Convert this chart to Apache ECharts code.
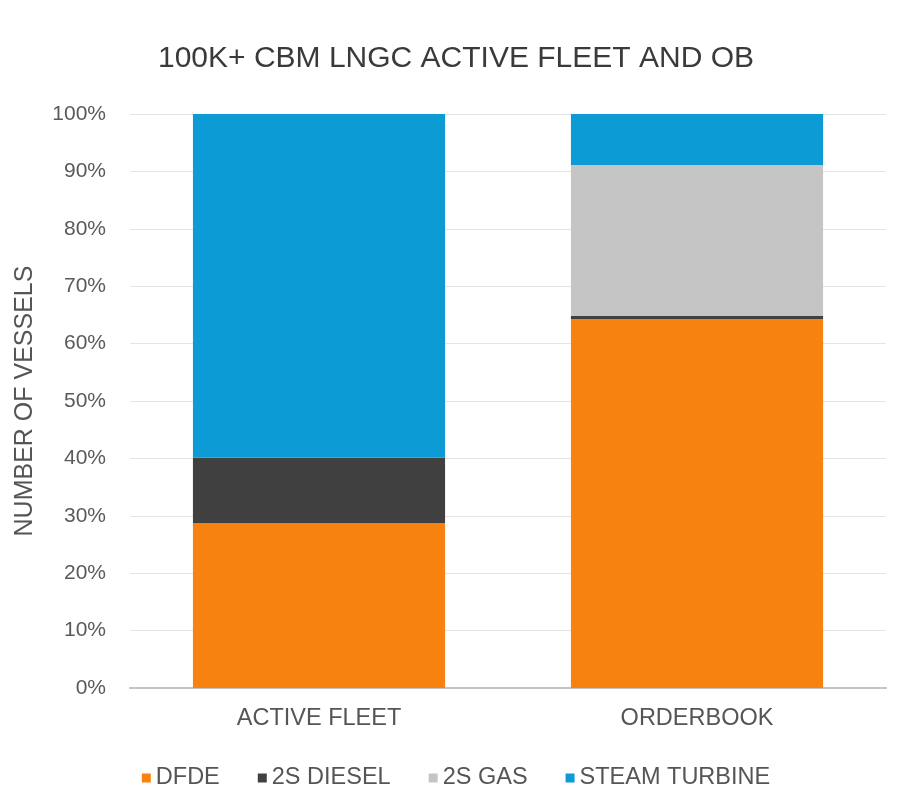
<!DOCTYPE html>
<html>
<head>
<meta charset="utf-8">
<script src="https://cdn.jsdelivr.net/npm/echarts@6/dist/echarts.min.js"></script>
<style>
  html, body { margin: 0; padding: 0; background: #ffffff; }
  #chart { width: 912px; height: 805px; }
</style>
</head>
<body>
<div id="chart"></div>
<script>
// Share of 100K+ CBM LNG carriers by propulsion type (percent of vessels)
const categories = ['ACTIVE FLEET', 'ORDERBOOK'];
const dfde = [28.7, 64.3];
const diesel2s = [11.4, 0.5];
const gas2s = [0, 26.3];
const steamTurbine = [59.9, 8.9];
const yTicks = [0, 10, 20, 30, 40, 50, 60, 70, 80, 90, 100];

const seriesDefs = [
  { name: 'DFDE', data: dfde, color: '#F8820F' },
  { name: '2S DIESEL', data: diesel2s, color: '#404040' },
  { name: '2S GAS', data: gas2s, color: '#C5C5C5' },
  { name: 'STEAM TURBINE', data: steamTurbine, color: '#0D9BD6' }
];

const chart = echarts.init(document.getElementById('chart'), null, { renderer: 'canvas' });
const font = '"Liberation Sans", Arial, Helvetica, sans-serif';

chart.setOption({
  backgroundColor: '#ffffff',
  animation: false,
  title: {
    text: '100K+ CBM LNGC ACTIVE FLEET AND OB',
    left: 'center',
    top: 39,
    textStyle: { fontFamily: font, fontSize: 30, fontWeight: 'normal', color: '#3a3a3a' }
  },
  legend: {
    bottom: 10,
    left: 'center',
    itemWidth: 9,
    itemHeight: 9,
    itemGap: 38,
    icon: 'rect',
    textStyle: { fontFamily: font, fontSize: 23.5, color: '#555555' },
    data: seriesDefs.map(s => s.name)
  },
  grid: { left: 130, right: 26, top: 114, bottom: 117, containLabel: false },
  xAxis: {
    type: 'category',
    data: categories,
    axisTick: { show: false },
    axisLine: { lineStyle: { color: '#c4c4c4', width: 2 } },
    axisLabel: { fontFamily: font, fontSize: 23.5, color: '#555555', margin: 19 }
  },
  yAxis: {
    type: 'value',
    min: yTicks[0],
    max: yTicks[yTicks.length - 1],
    interval: yTicks[1] - yTicks[0],
    name: 'NUMBER OF VESSELS',
    nameLocation: 'middle',
    nameGap: 92,
    nameTextStyle: { fontFamily: font, fontSize: 25, color: '#555555' },
    axisLine: { show: false },
    axisTick: { show: false },
    splitLine: { lineStyle: { color: '#e4e4e4', width: 1 } },
    axisLabel: {
      fontFamily: font, fontSize: 21, color: '#5a5a5a', margin: 24,
      formatter: v => v + '%'
    }
  },
  series: seriesDefs.map(s => ({
    name: s.name,
    type: 'bar',
    stack: 'total',
    barWidth: '66.7%',
    data: s.data,
    itemStyle: { color: s.color }
  }))
});
</script>
</body>
</html>
